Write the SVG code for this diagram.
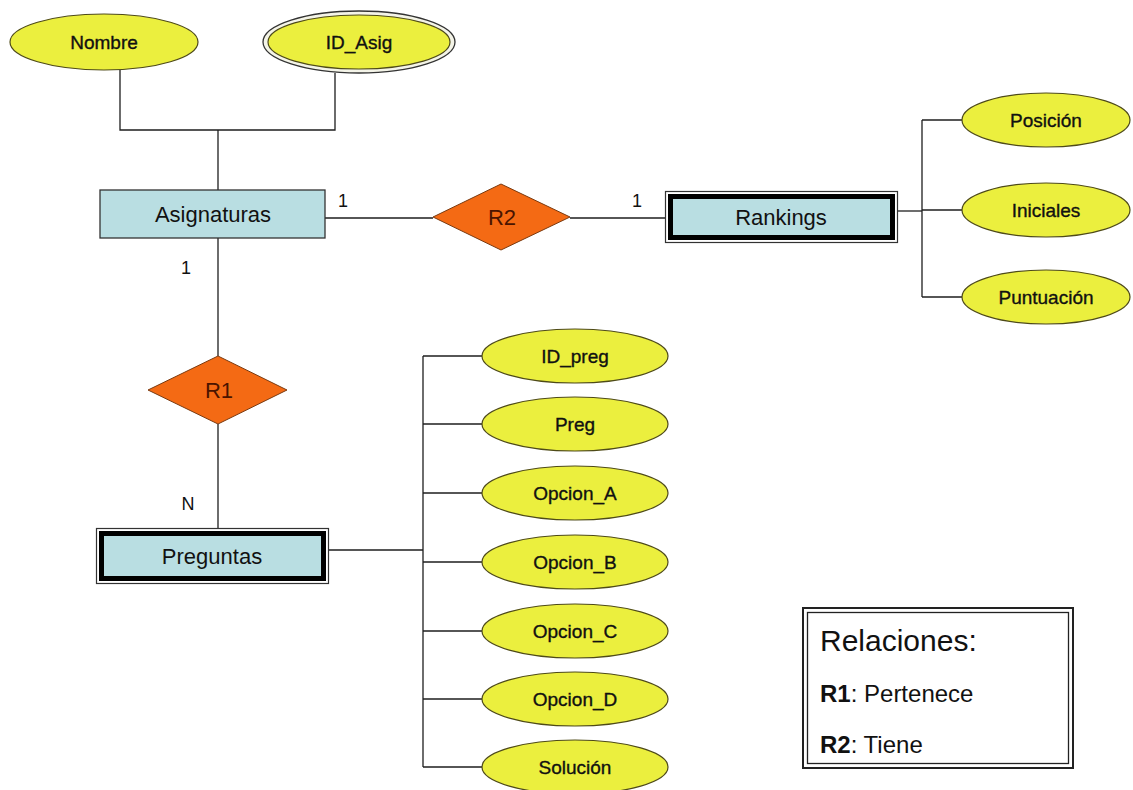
<svg xmlns="http://www.w3.org/2000/svg" width="1133" height="790" viewBox="0 0 1133 790">
  <style>
    .attr ellipse { fill: #ebef3e; stroke: #4e4a18; stroke-width: 1.2; }
    .attr ellipse.ring { fill: #f4f4e8; stroke: #333; stroke-width: 1.3; }
    .attr text { font-family: "Liberation Sans", Arial, sans-serif; font-size: 19px; fill: #111; stroke: #111; stroke-width: 0.35; text-anchor: middle; }
    .ent rect.fill { fill: #b9dee2; }
    .ent text { font-family: "Liberation Sans", Arial, sans-serif; font-size: 22px; fill: #111; text-anchor: middle; }
    .rel polygon { fill: #f46a14; stroke: #7a3a10; stroke-width: 1; }
    .rel text { font-family: "Liberation Sans", Arial, sans-serif; font-size: 22px; fill: #4a1400; text-anchor: middle; }
    .card { font-family: "Liberation Sans", Arial, sans-serif; font-size: 18px; fill: #111; text-anchor: middle; }
    .links { stroke: #1e1e1e; stroke-width: 1.3; fill: none; }
    .legend text { font-family: "Liberation Sans", Arial, sans-serif; fill: #111; }
  </style>
  <rect width="1133" height="790" fill="#ffffff"/>

  <!-- connectors -->
  <g id="connectors" class="links">
    <!-- Asignaturas attributes -->
    <polyline points="120,70 120,130 335,130 335,73"/>
    <line x1="218" y1="130" x2="218" y2="190"/>
    <!-- Asignaturas - R2 - Rankings -->
    <line x1="325" y1="218" x2="433" y2="218"/>
    <line x1="570" y1="218" x2="665" y2="218"/>
    <!-- Asignaturas - R1 - Preguntas -->
    <line x1="218" y1="238" x2="218" y2="356"/>
    <line x1="218" y1="424" x2="218" y2="528"/>
    <!-- Rankings attributes -->
    <line x1="898" y1="211" x2="922" y2="211"/>
    <line x1="922" y1="120" x2="922" y2="297"/>
    <line x1="922" y1="120" x2="962" y2="120"/>
    <line x1="922" y1="210" x2="962" y2="210"/>
    <line x1="922" y1="297" x2="962" y2="297"/>
    <!-- Preguntas attributes -->
    <line x1="329" y1="550" x2="423" y2="550"/>
    <line x1="423" y1="356" x2="423" y2="767"/>
    <line x1="423" y1="356" x2="482" y2="356"/>
    <line x1="423" y1="424" x2="482" y2="424"/>
    <line x1="423" y1="493" x2="482" y2="493"/>
    <line x1="423" y1="562" x2="482" y2="562"/>
    <line x1="423" y1="631" x2="482" y2="631"/>
    <line x1="423" y1="699" x2="482" y2="699"/>
    <line x1="423" y1="767" x2="482" y2="767"/>
  </g>

  <!-- cardinalities -->
  <g id="cardinalities">
    <text class="card" x="343" y="207">1</text>
    <text class="card" x="637" y="207">1</text>
    <text class="card" x="186" y="274">1</text>
    <text class="card" x="188" y="510">N</text>
  </g>

  <!-- Asignaturas attributes -->
  <g id="attr-nombre" class="attr">
    <ellipse cx="104" cy="42" rx="94" ry="28"/>
    <text x="104" y="49">Nombre</text>
  </g>
  <g id="attr-id-asig" class="attr">
    <ellipse class="ring" cx="359" cy="42" rx="96" ry="31"/>
    <ellipse cx="359" cy="42" rx="91" ry="27"/>
    <text x="359" y="49">ID_Asig</text>
  </g>

  <!-- Entities -->
  <g id="ent-asignaturas" class="ent">
    <rect class="fill" x="100" y="190" width="225" height="48" stroke="#333" stroke-width="1.3"/>
    <text x="213" y="222">Asignaturas</text>
  </g>

  <g id="ent-rankings" class="ent">
    <rect x="665.5" y="191.5" width="232" height="51" fill="#fff" stroke="#333" stroke-width="1.2"/>
    <rect class="fill" x="670.5" y="196.5" width="222" height="41" stroke="#000" stroke-width="5"/>
    <text x="781" y="225">Rankings</text>
  </g>

  <g id="ent-preguntas" class="ent">
    <rect x="96.5" y="528.5" width="232" height="55" fill="#fff" stroke="#333" stroke-width="1.2"/>
    <rect class="fill" x="101.5" y="533.5" width="222" height="45" stroke="#000" stroke-width="5"/>
    <text x="212" y="564">Preguntas</text>
  </g>

  <!-- Relationships -->
  <g id="rel-r2" class="rel">
    <polygon points="433,217 501,184 570,217 501,250"/>
    <text x="502" y="225">R2</text>
  </g>
  <g id="rel-r1" class="rel">
    <polygon points="148,390 218,356 287,390 218,424"/>
    <text x="219" y="398">R1</text>
  </g>

  <!-- Rankings attributes -->
  <g id="attr-posicion" class="attr">
    <ellipse cx="1046" cy="120" rx="84" ry="27"/>
    <text x="1046" y="127">Posición</text>
  </g>
  <g id="attr-iniciales" class="attr">
    <ellipse cx="1046" cy="210" rx="84" ry="27"/>
    <text x="1046" y="217">Iniciales</text>
  </g>
  <g id="attr-puntuacion" class="attr">
    <ellipse cx="1046" cy="297" rx="84" ry="27"/>
    <text x="1046" y="304">Puntuación</text>
  </g>

  <!-- Preguntas attributes -->
  <g id="attr-id-preg" class="attr">
    <ellipse cx="575" cy="356" rx="93" ry="27"/>
    <text x="575" y="363">ID_preg</text>
  </g>
  <g id="attr-preg" class="attr">
    <ellipse cx="575" cy="424" rx="93" ry="27"/>
    <text x="575" y="431">Preg</text>
  </g>
  <g id="attr-opcion-a" class="attr">
    <ellipse cx="575" cy="493" rx="93" ry="27"/>
    <text x="575" y="500">Opcion_A</text>
  </g>
  <g id="attr-opcion-b" class="attr">
    <ellipse cx="575" cy="562" rx="93" ry="27"/>
    <text x="575" y="569">Opcion_B</text>
  </g>
  <g id="attr-opcion-c" class="attr">
    <ellipse cx="575" cy="631" rx="93" ry="27"/>
    <text x="575" y="638">Opcion_C</text>
  </g>
  <g id="attr-opcion-d" class="attr">
    <ellipse cx="575" cy="699" rx="93" ry="27"/>
    <text x="575" y="706">Opcion_D</text>
  </g>
  <g id="attr-solucion" class="attr">
    <ellipse cx="575" cy="767" rx="93" ry="27"/>
    <text x="575" y="774">Solución</text>
  </g>

  <!-- Legend -->
  <g id="legend" class="legend">
    <rect x="803" y="608" width="270" height="160" fill="#fff" stroke="#222" stroke-width="2"/>
    <rect x="807.5" y="612.5" width="261" height="151" fill="none" stroke="#222" stroke-width="1.3"/>
    <text x="820" y="651" font-size="30">Relaciones:</text>
    <text x="820" y="702" font-size="24"><tspan font-weight="bold">R1</tspan>: Pertenece</text>
    <text x="820" y="753" font-size="24"><tspan font-weight="bold">R2</tspan>: Tiene</text>
  </g>
</svg>
